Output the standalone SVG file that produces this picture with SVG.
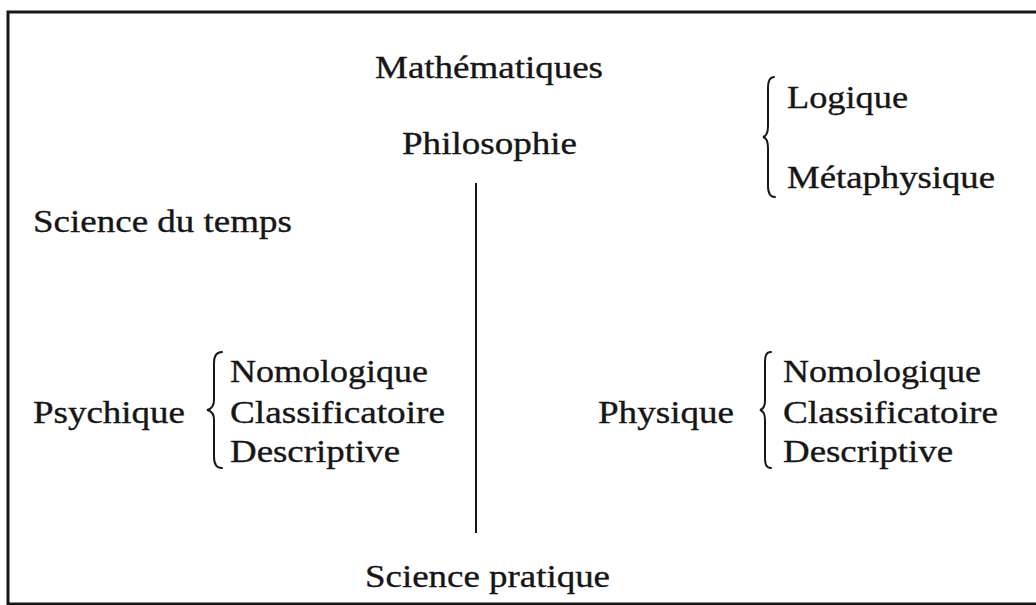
<svg xmlns="http://www.w3.org/2000/svg" width="1036" height="605" viewBox="0 0 1036 605">
<style>
text{font-family:"Liberation Serif","Times New Roman",serif;font-size:31px;fill:#161616;stroke:#161616;stroke-width:0.35}
.br{fill:none;stroke:#161616;stroke-width:2;stroke-linecap:round}
.ln{stroke:#161616;stroke-width:2}
</style>
<rect x="8" y="12" width="1050" height="592" fill="#fff" stroke="#161616" stroke-width="3"/>
<g id="mathematiques"><text x="375" y="78" textLength="228" lengthAdjust="spacingAndGlyphs">Mathématiques</text></g>
<g id="philosophie"><text x="402" y="154" textLength="175" lengthAdjust="spacingAndGlyphs">Philosophie</text></g>
<g id="logique"><text x="787" y="108" textLength="121" lengthAdjust="spacingAndGlyphs">Logique</text></g>
<g id="metaphysique"><text x="787" y="188" textLength="208" lengthAdjust="spacingAndGlyphs">Métaphysique</text></g>
<g id="science-temps"><text x="33" y="232" textLength="259" lengthAdjust="spacingAndGlyphs">Science du temps</text></g>
<g id="psychique"><text x="33" y="423" textLength="152" lengthAdjust="spacingAndGlyphs">Psychique</text></g>
<g id="psy-nomologique"><text x="230" y="382" textLength="198" lengthAdjust="spacingAndGlyphs">Nomologique</text></g>
<g id="psy-classificatoire"><text x="230" y="423" textLength="215" lengthAdjust="spacingAndGlyphs">Classificatoire</text></g>
<g id="psy-descriptive"><text x="230" y="462" textLength="170" lengthAdjust="spacingAndGlyphs">Descriptive</text></g>
<g id="physique"><text x="598" y="423" textLength="136" lengthAdjust="spacingAndGlyphs">Physique</text></g>
<g id="phy-nomologique"><text x="783" y="382" textLength="198" lengthAdjust="spacingAndGlyphs">Nomologique</text></g>
<g id="phy-classificatoire"><text x="783" y="423" textLength="215" lengthAdjust="spacingAndGlyphs">Classificatoire</text></g>
<g id="phy-descriptive"><text x="783" y="462" textLength="170" lengthAdjust="spacingAndGlyphs">Descriptive</text></g>
<g id="science-pratique"><text x="365" y="587" textLength="245" lengthAdjust="spacingAndGlyphs">Science pratique</text></g>
<g id="connectors">
<line class="ln" x1="476" y1="183" x2="476" y2="533"/>
<path class="br" d="M774,77 C770,77 768,81 768,88 L768,126 C768,132 767,136 763,137 C767,138 768,142 768,148 L768,186 C768,193 770,197 775,197"/>
<path class="br" d="M222,352 C216,352 214,356 214,363 L214,400 C214,406 212,409 207,410 C212,411 214,414 214,420 L214,457 C214,464 216,468 222,468"/>
<path class="br" d="M771,352 C766,352 765,356 765,363 L765,400 C765,406 764,409 760,410 C764,411 765,414 765,420 L765,457 C765,464 766,468 771,468"/>
</g>
</svg>
